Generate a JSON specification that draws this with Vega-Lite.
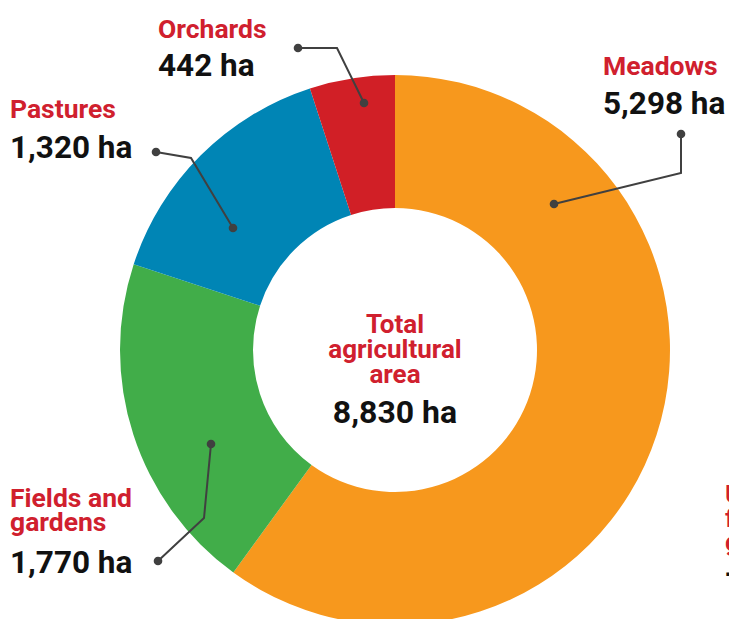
{
  "$schema": "https://vega.github.io/schema/vega-lite/v6.json",
  "autosize": {"type": "none"},
  "width": 668,
  "height": 538,
  "padding": {"left": 61, "top": 81, "right": 0, "bottom": 0},
  "background": "white",
  "config": {"view": {"stroke": null}, "font": "Roboto"},
  "datasets": {
    "slices": [
      {"category": "Meadows", "area": 5298, "rank": 1},
      {"category": "Fields and gardens", "area": 1770, "rank": 2},
      {"category": "Pastures", "area": 1320, "rank": 3},
      {"category": "Orchards", "area": 442, "rank": 4}
    ],
    "leaders": [
      {"label": "Orchards", "seq": 1, "x": -97, "y": 302, "dot": true},
      {"label": "Orchards", "seq": 2, "x": -58, "y": 302, "dot": false},
      {"label": "Orchards", "seq": 3, "x": -31, "y": 247, "dot": true},
      {"label": "Pastures", "seq": 1, "x": -239, "y": 198, "dot": true},
      {"label": "Pastures", "seq": 2, "x": -204, "y": 192, "dot": false},
      {"label": "Pastures", "seq": 3, "x": -162, "y": 122, "dot": true},
      {"label": "Meadows", "seq": 1, "x": 286, "y": 216, "dot": true},
      {"label": "Meadows", "seq": 2, "x": 286, "y": 177, "dot": false},
      {"label": "Meadows", "seq": 3, "x": 159, "y": 146, "dot": true},
      {"label": "Fields and gardens", "seq": 1, "x": -237, "y": -211, "dot": true},
      {"label": "Fields and gardens", "seq": 2, "x": -191, "y": -168, "dot": false},
      {"label": "Fields and gardens", "seq": 3, "x": -184, "y": -94, "dot": true}
    ],
    "names": [
      {"text": "Orchards", "x": -237, "y": 312},
      {"text": "Pastures", "x": -385, "y": 232},
      {"text": "Meadows", "x": 208, "y": 275},
      {"text": "Fields and\ngardens", "x": -385, "y": -157},
      {"text": "Used\nfor\ngrazing", "x": 330, "y": -153}
    ],
    "values": [
      {"text": "442 ha", "x": -237, "y": 274},
      {"text": "1,320 ha", "x": -385, "y": 192},
      {"text": "5,298 ha", "x": 208, "y": 236},
      {"text": "1,770 ha", "x": -385, "y": -223},
      {"text": "– ha", "x": 329, "y": -235}
    ],
    "center": [
      {"text": "Total\nagricultural\narea", "value": "8,830 ha", "x": 0, "y": 17, "vy": -73}
    ]
  },
  "layer": [
    {
      "data": {"name": "slices"},
      "mark": {"type": "arc", "outerRadius": 275, "innerRadius": 142, "stroke": null},
      "encoding": {
        "theta": {"field": "area", "type": "quantitative", "stack": true},
        "order": {"field": "rank", "type": "quantitative"},
        "color": {
          "field": "category",
          "type": "nominal",
          "legend": null,
          "scale": {
            "domain": ["Meadows", "Fields and gardens", "Pastures", "Orchards"],
            "range": ["#f7981d", "#41ad49", "#0085b5", "#d11f26"]
          }
        }
      }
    },
    {
      "data": {"name": "leaders"},
      "mark": {"type": "line", "color": "#404040", "strokeWidth": 2},
      "encoding": {
        "x": {"field": "x", "type": "quantitative", "scale": {"domain": [-334, 334], "nice": false, "zero": false}, "axis": null},
        "y": {"field": "y", "type": "quantitative", "scale": {"domain": [-269, 269], "nice": false, "zero": false}, "axis": null},
        "detail": {"field": "label"},
        "order": {"field": "seq", "type": "quantitative"}
      }
    },
    {
      "data": {"name": "leaders"},
      "transform": [{"filter": "datum.dot"}],
      "mark": {"type": "point", "filled": true, "color": "#404040", "size": 75, "opacity": 1},
      "encoding": {
        "x": {"field": "x", "type": "quantitative"},
        "y": {"field": "y", "type": "quantitative"}
      }
    },
    {
      "data": {"name": "names"},
      "mark": {"type": "text", "align": "left", "baseline": "alphabetic", "font": "Roboto", "fontWeight": "bold", "fontSize": 26.5, "color": "#d0202e", "lineBreak": "\n", "lineHeight": 24},
      "encoding": {
        "x": {"field": "x", "type": "quantitative"},
        "y": {"field": "y", "type": "quantitative"},
        "text": {"field": "text"}
      }
    },
    {
      "data": {"name": "values"},
      "mark": {"type": "text", "align": "left", "baseline": "alphabetic", "font": "Roboto", "fontWeight": "bold", "fontSize": 31.5, "color": "#111111"},
      "encoding": {
        "x": {"field": "x", "type": "quantitative"},
        "y": {"field": "y", "type": "quantitative"},
        "text": {"field": "text"}
      }
    },
    {
      "data": {"name": "center"},
      "mark": {"type": "text", "align": "center", "baseline": "alphabetic", "font": "Roboto", "fontWeight": "bold", "fontSize": 26, "color": "#d0202e", "lineBreak": "\n", "lineHeight": 25},
      "encoding": {
        "x": {"field": "x", "type": "quantitative"},
        "y": {"field": "y", "type": "quantitative"},
        "text": {"field": "text"}
      }
    },
    {
      "data": {"name": "center"},
      "mark": {"type": "text", "align": "center", "baseline": "alphabetic", "font": "Roboto", "fontWeight": "bold", "fontSize": 32, "color": "#111111"},
      "encoding": {
        "x": {"field": "x", "type": "quantitative"},
        "y": {"field": "vy", "type": "quantitative"},
        "text": {"field": "value"}
      }
    }
  ]
}
